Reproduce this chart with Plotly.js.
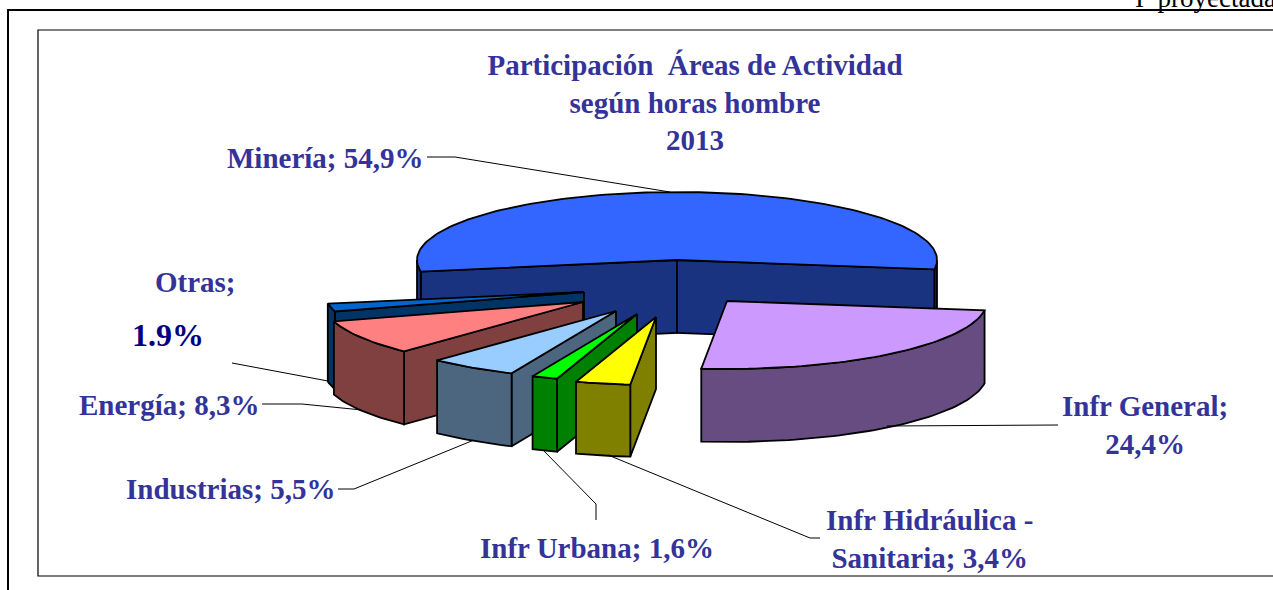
<!DOCTYPE html>
<html>
<head>
<meta charset="utf-8">
<script src="https://cdn.plot.ly/plotly-3.0.1.min.js"></script>
<style>html,body{margin:0;padding:0;background:#fff;overflow:hidden}#chart{width:1273px;height:590px}</style>
</head>
<body>
<div id="chart"></div>
<script>
// ---- data ----
const categories = ['Minería', 'Infr General', 'Infr Hidráulica - Sanitaria', 'Infr Urbana', 'Industrias', 'Energía', 'Otras'];
const shares = [54.9, 24.4, 3.4, 1.6, 5.5, 8.3, 1.9];
// ---- styles ----
const topColors = ['#3366FF', '#CC99FF', '#FFFF00', '#00FF00', '#99CCFF', '#FF8080', '#0066CC'];
const wallColors = ['#1A3380', '#664C80', '#808000', '#008000', '#4D6680', '#804040', '#003366'];
// apex position of each exploded slice, and its depth on screen
const apexX = [677, 727, 656, 637, 616, 583, 584];
const apexY = [260, 301, 317, 314, 311, 302, 292];
const depth = [73, 73, 72, 73, 73, 73, 78];
const RX = 260, RY = 68, START = -99.8;
const INK = '#000000', EDGE = 1.8, TEXT = '#333399';
const SERIF = '"Liberation Serif", "Times New Roman", serif';
const drawOrder = [0, 6, 5, 4, 3, 2, 1];

const rad = d => d * Math.PI / 180;
const total = shares.reduce((a, b) => a + b, 0);
const bounds = []; // [from, to] angle of each slice, clockwise from 12 o'clock
shares.reduce((acc, s) => { const e = acc + s / total * 360; bounds.push([acc, e]); return e; }, START);

const rim = (i, a) => [apexX[i] + RX * Math.sin(rad(a)), apexY[i] - RY * Math.cos(rad(a))];
function arc(i, a, b) {
  const pts = [], n = Math.max(2, Math.ceil(Math.abs(b - a) / 1.5));
  for (let k = 0; k <= n; k++) pts.push(rim(i, a + (b - a) * k / n));
  return pts;
}
function poly(pts, fill, name) {
  return {
    type: 'scatter', mode: 'lines', name: name, showlegend: false, hoverinfo: 'skip',
    x: pts.map(p => p[0]).concat([pts[0][0]]),
    y: pts.map(p => p[1]).concat([pts[0][1]]),
    fill: 'toself', fillcolor: fill,
    line: { color: INK, width: EDGE, shape: 'linear' }
  };
}
const down = (p, h) => [p[0], p[1] + h];

const traces = [];
drawOrder.forEach(i => {
  const [a, b] = bounds[i], h = depth[i], apex = [apexX[i], apexY[i]];
  const name = categories[i];
  // radial cut walls that face the viewer
  const startRim = rim(i, a), endRim = rim(i, b);
  const startNormalY = Math.cos(rad(a - 90)) * -1;  // screen-y of outward normal at start cut
  const endNormalY = Math.cos(rad(b + 90)) * -1;    // screen-y of outward normal at end cut
  if (startNormalY > 0) traces.push(poly([apex, startRim, down(startRim, h), down(apex, h)], wallColors[i], name));
  if (endNormalY > 0) traces.push(poly([apex, endRim, down(endRim, h), down(apex, h)], wallColors[i], name));
  // outer curved wall: only the parts in the front half of the ellipse
  for (let k = -1; k <= 1; k++) {
    const lo = Math.max(a, 90 + 360 * k), hi = Math.min(b, 270 + 360 * k);
    if (hi > lo) {
      const t = arc(i, lo, hi);
      traces.push(poly(t.concat(t.slice().reverse().map(p => down(p, h))), wallColors[i], name));
    }
  }
  // top face
  traces.push(poly([apex].concat(arc(i, a, b)), topColors[i], name));
});

// ---- labels ----
const pct = v => v.toFixed(1).replace('.', ',') + '%';
const lab = { size: 29, color: TEXT, family: SERIF };
function note(text, x, y, anchor, font) {
  return { text: text, x: x, y: y, xref: 'x', yref: 'y', xanchor: anchor, yanchor: 'middle', showarrow: false, font: font || lab };
}
const annotations = [
  note('<b>' + categories[0] + '; ' + pct(shares[0]) + '</b>', 325, 158, 'center'),
  note('<b>Infr General;<br>' + pct(shares[1]) + '</b>', 1145, 425, 'center'),
  note('<b>Infr Hidráulica -<br>Sanitaria; ' + pct(shares[2]) + '</b>', 929, 539, 'center'),
  note('<b>' + categories[3] + '; ' + pct(shares[3]) + '</b>', 597, 548, 'center'),
  note('<b>' + categories[4] + '; ' + pct(shares[4]) + '</b>', 231, 489, 'center'),
  note('<b>' + categories[5] + '; ' + pct(shares[5]) + '</b>', 169, 405, 'center'),
  note('<b>' + categories[6] + ';</b>', 195, 282, 'center'),
  note('<b>' + shares[6].toFixed(1) + '%</b>', 168, 335, 'center', { size: 32, color: '#000080', family: SERIF }),
  { text: 'I\u00A0\u00A0proyectada', x: 1, y: 1 + 2 / 590, xref: 'paper', yref: 'paper', xanchor: 'right', yanchor: 'middle', xshift: 5,
    showarrow: false, font: { size: 27, color: '#000000', family: SERIF } }
];

function seg(pts, color, width) {
  const d = 'M' + pts.map(p => p[0] + ',' + p[1]).join('L');
  return { type: 'path', path: d, xref: 'x', yref: 'y', line: { color: color, width: width }, layer: 'above' };
}
const shapes = [
  // outer and inner frames
  seg([[8, 590], [8, 10], [1273, 10]], '#000', 2),
  seg([[1273, 30], [38, 30], [38, 576], [1273, 576]], '#000', 1.2),
  // leader lines
  seg([[427, 157], [455, 157], [670, 192]], '#000', 1),
  seg([[232, 363], [328, 381]], '#000', 1),
  seg([[262, 404], [302, 404], [362, 410]], '#000', 1),
  seg([[338, 489], [354, 489], [474, 440]], '#000', 1),
  seg([[543, 450], [596, 504], [596, 520]], '#000', 1),
  seg([[608, 455], [810, 538], [820, 538]], '#000', 1),
  seg([[887, 426], [1058, 425]], '#000', 1)
];

const layout = {
  width: 1273, height: 590,
  margin: { l: 0, r: 0, t: 0, b: 0 },
  paper_bgcolor: '#fff', plot_bgcolor: '#fff',
  showlegend: false,
  title: {
    text: '<b>Participación  Áreas de Actividad<br>según horas hombre<br>2013</b>',
    font: { size: 29, color: TEXT, family: SERIF },
    x: 695 / 1273, xanchor: 'center', y: 1 - 75 / 590, yanchor: 'top', xref: 'paper', yref: 'paper'
  },
  xaxis: { range: [0, 1273], visible: false, fixedrange: true },
  yaxis: { range: [590, 0], visible: false, fixedrange: true },
  annotations: annotations,
  shapes: shapes
};
Plotly.newPlot('chart', traces, layout, { displayModeBar: false, staticPlot: true });
</script>
</body>
</html>
